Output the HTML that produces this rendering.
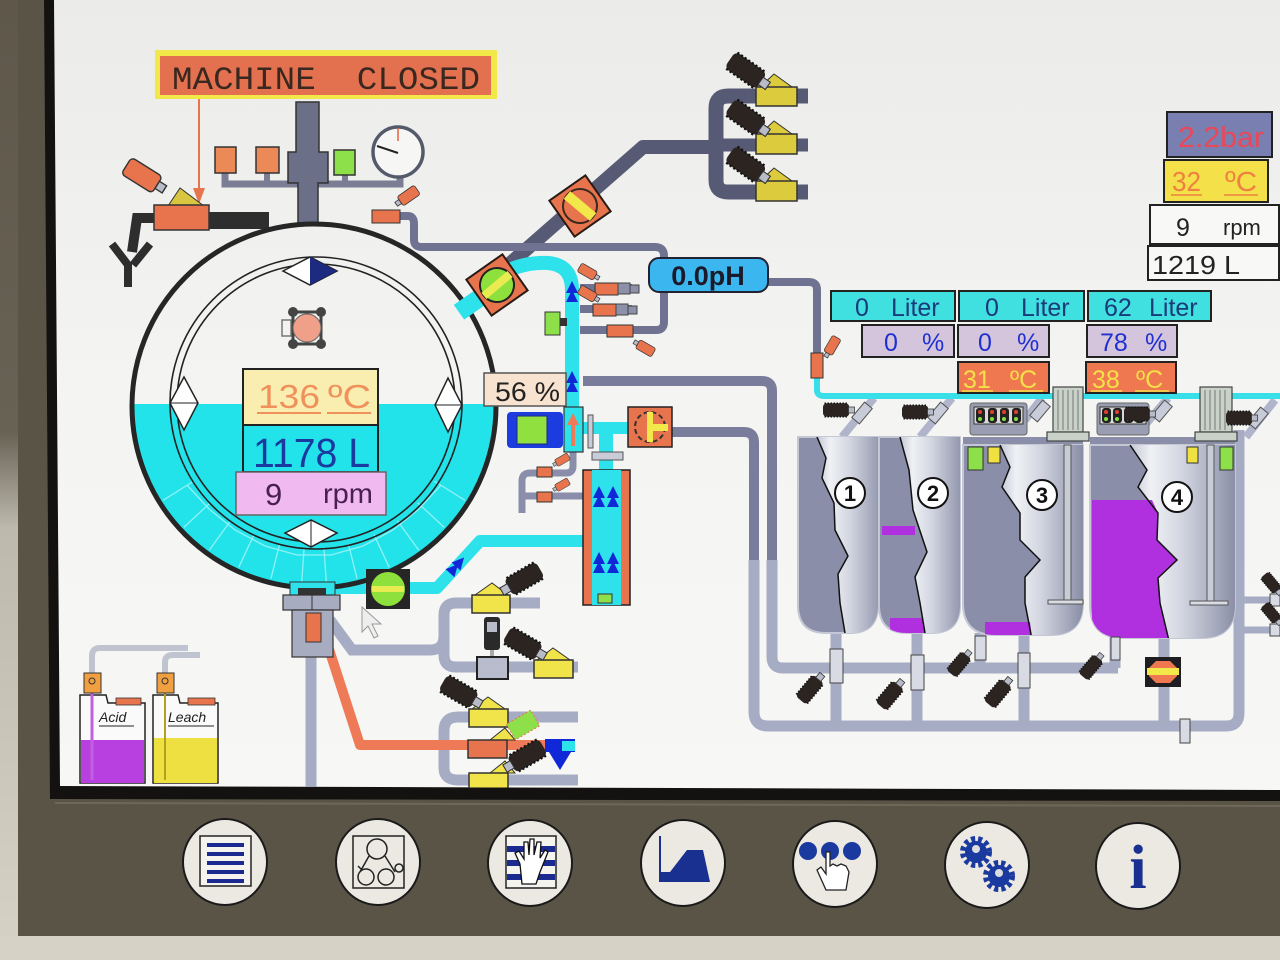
<!DOCTYPE html>
<html><head><meta charset="utf-8">
<style>
html,body{margin:0;padding:0;background:#5a5447;overflow:hidden}
svg{display:block}
.pre{white-space:pre}
</style></head><body>
<svg width="1280" height="960" viewBox="0 0 1280 960" xmlns="http://www.w3.org/2000/svg" font-family="Liberation Sans, sans-serif">
<defs>
 <linearGradient id="lstrip" x1="0" y1="0" x2="0" y2="1">
  <stop offset="0" stop-color="#5e574a"/><stop offset="0.45" stop-color="#686255"/><stop offset="0.55" stop-color="#bdb9ad"/><stop offset="1" stop-color="#d6d2c6"/>
 </linearGradient>
 <linearGradient id="scr" x1="0" y1="0" x2="0" y2="1">
  <stop offset="0" stop-color="#ebebe9"/><stop offset="0.5" stop-color="#f4f4f2"/><stop offset="1" stop-color="#f7f7f5"/>
 </linearGradient>
 <linearGradient id="cyl" x1="0" y1="0" x2="1" y2="0">
  <stop offset="0" stop-color="#c4c7d5"/><stop offset="0.18" stop-color="#eff1f5"/><stop offset="0.45" stop-color="#d3d6e0"/><stop offset="0.8" stop-color="#9da1b6"/><stop offset="1" stop-color="#7d8199"/>
 </linearGradient>
 <clipPath id="scrclip"><polygon points="54,0 1280,0 1280,790 60,786"/></clipPath>
 <clipPath id="drum"><circle cx="314" cy="406" r="181"/></clipPath>
 <clipPath id="t1"><path d="M798 437 L878 437 L878 605 Q878 633 850 633 L826 633 Q798 633 798 605 Z"/></clipPath>
 <clipPath id="t2"><path d="M879 437 L960 437 L960 605 Q960 633 932 633 L907 633 Q879 633 879 605 Z"/></clipPath>
 <clipPath id="t3"><path d="M963 445 L1083 445 L1083 603 Q1083 635 1051 635 L995 635 Q963 635 963 603 Z"/></clipPath>
 <clipPath id="t4"><path d="M1090 445 L1235 445 L1235 605 Q1235 638 1202 638 L1123 638 Q1090 638 1090 605 Z"/></clipPath>
 <g id="act"><rect x="-20" y="-9" width="35" height="18" rx="5" fill="#2b2421"/><line x1="-18" y1="-9" x2="13" y2="-9" stroke="#111" stroke-width="2" stroke-dasharray="2 2"/><line x1="-18" y1="9" x2="13" y2="9" stroke="#111" stroke-width="2" stroke-dasharray="2 2"/><rect x="14" y="-4" width="8" height="8" fill="#b8bcc8" stroke="#333" stroke-width="1"/></g>
 <g id="oact"><rect x="-14" y="-7" width="26" height="14" rx="3" fill="#e8744e" stroke="#333" stroke-width="1"/><rect x="12" y="-3" width="6" height="6" fill="#b8bcc8" stroke="#333" stroke-width="1"/></g>
 <g id="barr"><polygon points="-6,6 0,-6 6,6" fill="#1028d8"/><polygon points="-6,15 0,3 6,15" fill="#1028d8"/></g>
</defs>

<!-- bezel -->
<rect width="1280" height="960" fill="#5a5447"/>
<rect x="0" y="0" width="18" height="960" fill="url(#lstrip)"/>
<rect x="0" y="936" width="1280" height="24" fill="#d6d2c6"/>
<line x1="55" y1="803" x2="1280" y2="806" stroke="#6e6859" stroke-width="2"/>
<polygon points="44,0 1280,0 1280,801 50,799" fill="#141210"/>
<polygon points="54,0 1280,0 1280,790 60,786" fill="url(#scr)"/>

<g clip-path="url(#scrclip)">
<!-- ===== dark top pipes ===== -->
<path d="M505 268 L643 147 L714 147" stroke="#575a74" stroke-width="14" fill="none" stroke-linejoin="round"/>
<path d="M808 96 L728 96 Q716 96 716 108 L716 180 Q716 192 728 192 L808 192" stroke="#575a74" stroke-width="15" fill="none"/>
<line x1="714" y1="145" x2="808" y2="145" stroke="#575a74" stroke-width="13"/>

<!-- medium pipes -->
<g stroke="#6f7391" stroke-width="8" fill="none" stroke-linejoin="round">
 <path d="M398 216 L408 216 Q414 216 414 224 L414 240 Q414 247 422 247 L655 247 Q664 247 664 256 L664 262"/>
 <path d="M768 282 L809 282 Q817 282 817 290 L817 356"/>
 <path d="M664 292 L664 322 Q664 330 656 330 L580 330"/>
 <path d="M580 288 L632 288"/>
 <path d="M580 309 L632 309"/>
 <path d="M573 452 L573 466 Q573 473 566 473 L530 473 Q522 473 522 481 L522 513" stroke="#8a8eaa" stroke-width="7"/>
 <path d="M524 496 L583 496" stroke="#8a8eaa" stroke-width="7"/>
</g>
<g stroke="#797d9b" stroke-width="10" fill="none">
 <path d="M583 381 L762 381 Q772 381 772 391 L772 560"/>
 <path d="M672 432 L744 432 Q754 432 754 442 L754 560"/>
</g>
<!-- light pipes (tank area) -->
<g stroke="#a7acc5" stroke-width="11" fill="none">
 <path d="M772 560 L772 657 Q772 668 783 668 L1118 668"/>
 <path d="M754 560 L754 712 Q754 726 768 726 L1226 726 Q1239 726 1239 713 L1239 430"/>
 <path d="M836 633 L836 726"/>
 <path d="M917 630 L917 726"/>
 <path d="M980 633 L980 668"/>
 <path d="M1024 633 L1024 726"/>
 <path d="M1115 637 L1115 668"/>
 <path d="M1164 637 L1164 726"/>
 <path d="M1239 600 L1280 600" stroke-width="7"/>
 <path d="M1239 630 L1280 630" stroke-width="7"/>
</g>
<g stroke="#b0b5cb" stroke-width="8" fill="none">
 <path d="M874 398 L842 437"/>
 <path d="M952 398 L920 437"/>
 <path d="M1042 398 L1025 420"/>
 <path d="M1168 398 L1145 425"/>
 <path d="M1275 400 L1246 437"/>
</g>
<!-- lower-left light pipes -->
<g stroke="#a7acc5" stroke-width="11" fill="none">
 <path d="M311 650 L311 790"/>
 <path d="M330 620 L352 650 L430 650 Q444 650 444 636 L444 615 Q444 603 456 603 L540 603"/>
 <path d="M444 636 L444 655 Q444 667 456 667 L578 667"/>
 <path d="M578 717 L458 717 Q444 717 444 731 L444 768 Q444 780 458 780 L578 780"/>
</g>
<path d="M326 640 L360 745 L560 745" stroke="#ee7a58" stroke-width="10" fill="none" stroke-linejoin="round"/>

<!-- cyan pipes -->
<g stroke="#2de2ea" fill="none" stroke-linejoin="round">
 <path d="M505 272 Q525 262 548 263 Q572 265 572 290 L572 452" stroke-width="14"/>
 <path d="M332 588 L437 588 L480 541 L585 541" stroke-width="12"/>
 <path d="M817 372 L817 390 Q817 396 824 396 L1280 396" stroke="#38dfe8" stroke-width="6"/>
</g>
<rect x="583" y="422" width="45" height="12" fill="#2de2ea"/>
<rect x="599" y="434" width="14" height="36" fill="#2de2ea"/>
<use href="#barr" transform="translate(572,287)"/>
<use href="#barr" transform="translate(572,377)"/>
<use href="#barr" transform="translate(460,562) rotate(42)"/>

<!-- ===== top-left area ===== -->
<path d="M225 173 L225 184 L400 184 L400 176" stroke="#7a7d94" stroke-width="7" fill="none"/>
<line x1="267" y1="173" x2="267" y2="184" stroke="#7a7d94" stroke-width="6"/>
<line x1="345" y1="175" x2="345" y2="184" stroke="#7a7d94" stroke-width="6"/>
<path d="M296 102 L319 102 L319 152 L328 152 L328 183 L318 183 L318 224 L298 224 L298 183 L288 183 L288 152 L296 152 Z" fill="#6c6f88" stroke="#333" stroke-width="1.5"/>
<rect x="215" y="147" width="21" height="26" fill="#eb8a56" stroke="#333" stroke-width="1.5"/>
<rect x="256" y="147" width="23" height="26" fill="#eb8a56" stroke="#333" stroke-width="1.5"/>
<rect x="334" y="150" width="21" height="25" fill="#8ee04a" stroke="#333" stroke-width="1.5"/>
<circle cx="398" cy="152" r="25" fill="#f6f6f4" stroke="#555a6a" stroke-width="3.5"/>
<line x1="398" y1="128" x2="398" y2="141" stroke="#e8603e" stroke-width="1.5"/>
<line x1="398" y1="153" x2="377" y2="146" stroke="#222" stroke-width="2"/>

<!-- machine closed -->
<rect x="155" y="50" width="342" height="49" fill="#f2e84a"/>
<rect x="160" y="56" width="331" height="39" fill="#e3714f"/>
<text x="172" y="89" class="pre" font-family="Liberation Mono, monospace" font-size="32" fill="#3a2820" textLength="308" lengthAdjust="spacingAndGlyphs">MACHINE  CLOSED</text>
<line x1="199" y1="99" x2="199" y2="192" stroke="#e8744e" stroke-width="2"/>
<polygon points="193,188 205,188 199,204" fill="#e8744e"/>

<!-- left valve & black pipe -->
<rect x="205" y="212" width="64" height="17" fill="#2e2e2e"/>
<path d="M158 218 L137 218 L132 252" stroke="#2e2e2e" stroke-width="10" fill="none"/>
<path d="M112 244 L128 265 L128 287 M150 244 L133 265" stroke="#2e2e2e" stroke-width="8" fill="none"/>
<use href="#oact" transform="translate(143,176) rotate(32) scale(1.4)"/>
<polygon points="168,206 180,188 204,206" fill="#d8c640" stroke="#333" stroke-width="1"/>
<rect x="154" y="205" width="55" height="25" fill="#e8744e" stroke="#333" stroke-width="1.5"/>
<rect x="372" y="210" width="28" height="13" fill="#e8744e" stroke="#333" stroke-width="1"/>
<use href="#oact" transform="translate(408,196) rotate(145) scale(0.8)"/>

<!-- ===== drum ===== -->
<g clip-path="url(#drum)"><rect x="120" y="404" width="400" height="200" fill="#22e3ea"/></g>
<g transform="translate(314,406)" stroke="#8ff2f6" stroke-width="1.3">
 <line x1="142" y1="0" x2="178" y2="0" transform="rotate(32)"/>
 <line x1="142" y1="0" x2="178" y2="0" transform="rotate(43)"/>
 <line x1="142" y1="0" x2="178" y2="0" transform="rotate(54)"/>
 <line x1="142" y1="0" x2="178" y2="0" transform="rotate(65)"/>
 <line x1="142" y1="0" x2="178" y2="0" transform="rotate(76)"/>
 <line x1="142" y1="0" x2="178" y2="0" transform="rotate(86)"/>
 <line x1="142" y1="0" x2="178" y2="0" transform="rotate(94)"/>
 <line x1="142" y1="0" x2="178" y2="0" transform="rotate(104)"/>
 <line x1="142" y1="0" x2="178" y2="0" transform="rotate(115)"/>
 <line x1="142" y1="0" x2="178" y2="0" transform="rotate(126)"/>
 <line x1="142" y1="0" x2="178" y2="0" transform="rotate(137)"/>
 <line x1="142" y1="0" x2="178" y2="0" transform="rotate(148)"/>
 <polyline points="127,79 105,103 79,124 49,140 17,149 -17,149 -49,140 -79,124 -105,103 -127,79" fill="none"/>
</g>
<circle cx="316" cy="403" r="146" fill="none" stroke="#222" stroke-width="1.6"/>
<circle cx="316" cy="403" r="139" fill="none" stroke="#222" stroke-width="1.6"/>
<circle cx="314" cy="406" r="182" fill="none" stroke="#262626" stroke-width="5"/>
<polygon points="283,271 310,257 337,271 310,285" fill="#fff" stroke="#222" stroke-width="1.5"/>
<polygon points="310,257 337,271 310,285" fill="#1c2a80"/>
<polygon points="184,377 198,403 184,430 170,403" fill="#fff" stroke="#222" stroke-width="1.5"/>
<line x1="170" y1="403" x2="198" y2="403" stroke="#222" stroke-width="1"/>
<polygon points="448,378 462,405 448,432 435,405" fill="#fff" stroke="#222" stroke-width="1.5"/>
<line x1="435" y1="405" x2="462" y2="405" stroke="#222" stroke-width="1"/>
<polygon points="285,533 311,520 337,533 311,547" fill="#fff" stroke="#222" stroke-width="1.5"/>
<line x1="311" y1="520" x2="311" y2="547" stroke="#222" stroke-width="1"/>
<!-- pink icon -->
<rect x="282" y="320" width="9" height="16" fill="none" stroke="#777" stroke-width="1.5"/>
<rect x="293" y="312" width="28" height="32" fill="none" stroke="#444" stroke-width="3"/>
<circle cx="307" cy="328" r="14" fill="#f0a088" stroke="#666" stroke-width="1"/>
<circle cx="293" cy="312" r="5" fill="#444"/><circle cx="321" cy="312" r="5" fill="#444"/>
<circle cx="293" cy="344" r="5" fill="#444"/><circle cx="321" cy="344" r="5" fill="#444"/>
<!-- drum boxes -->
<rect x="243" y="369" width="135" height="56" fill="#f9eeb0" stroke="#222" stroke-width="2"/>
<text x="258" y="408" font-size="33" fill="#f0905a" textLength="62" lengthAdjust="spacingAndGlyphs">136</text>
<text x="328" y="408" font-size="33" fill="#f0905a" textLength="43" lengthAdjust="spacingAndGlyphs">ºC</text>
<line x1="257" y1="413" x2="321" y2="413" stroke="#f0905a" stroke-width="2"/>
<line x1="327" y1="413" x2="371" y2="413" stroke="#f0905a" stroke-width="2"/>
<rect x="243" y="425" width="135" height="47" fill="#22e3ea" stroke="#222" stroke-width="2"/>
<text x="253" y="467" font-size="41" fill="#1a3aa0" textLength="117" lengthAdjust="spacingAndGlyphs">1178 L</text>
<rect x="236" y="472" width="150" height="43" fill="#f0baf0" stroke="#666" stroke-width="1.5"/>
<text x="265" y="505" font-size="31" fill="#4a2050">9</text>
<text x="323" y="503" font-size="28" fill="#4a2050" textLength="50" lengthAdjust="spacingAndGlyphs">rpm</text>

<!-- valves on right of drum -->
<rect x="-11" y="-9" width="24" height="18" fill="#2de2ea" transform="translate(468,306) rotate(-35)"/>
<g transform="translate(580,206) rotate(-35)">
 <rect x="-22" y="-22" width="44" height="44" fill="#e8744e" stroke="#2a1a14" stroke-width="2"/>
 <circle r="17" fill="#e8744e" stroke="#3a2a20" stroke-width="2"/>
 <rect x="-17" y="-5" width="34" height="10" fill="#f2e84a" transform="rotate(75)"/>
</g>
<g transform="translate(497,285) rotate(-35)">
 <rect x="-22" y="-22" width="44" height="44" fill="#e8744e" stroke="#2a1a14" stroke-width="2"/>
 <circle r="17" fill="#8ee03c" stroke="#222" stroke-width="2"/>
 <rect x="-17" y="-4" width="34" height="8" fill="#e8ec50" transform="rotate(-5)"/>
</g>

<!-- small valves near cyan riser -->
<rect x="545" y="312" width="15" height="23" fill="#8ee04a" stroke="#333" stroke-width="1"/>
<rect x="560" y="318" width="7" height="8" fill="#333"/>
<rect x="595" y="283" width="23" height="12" fill="#e8744e" stroke="#333" stroke-width="1"/>
<rect x="618" y="283" width="12" height="11" fill="#8c90a8" stroke="#444" stroke-width="1"/>
<rect x="630" y="285" width="9" height="8" fill="#8c90a8" stroke="#444" stroke-width="1"/>
<use href="#oact" transform="translate(588,272) rotate(30) scale(0.7)"/>
<rect x="593" y="304" width="23" height="12" fill="#e8744e" stroke="#333" stroke-width="1"/>
<rect x="616" y="304" width="12" height="11" fill="#8c90a8" stroke="#444" stroke-width="1"/>
<rect x="628" y="306" width="9" height="8" fill="#8c90a8" stroke="#444" stroke-width="1"/>
<use href="#oact" transform="translate(588,294) rotate(30) scale(0.7)"/>
<rect x="607" y="325" width="26" height="12" fill="#e8744e" stroke="#333" stroke-width="1"/>
<use href="#oact" transform="translate(645,348) rotate(-150) scale(0.7)"/>
<rect x="537" y="467" width="15" height="10" fill="#e8744e" stroke="#333" stroke-width="1"/>
<use href="#oact" transform="translate(562,460) rotate(150) scale(0.55)"/>
<rect x="537" y="492" width="15" height="10" fill="#e8744e" stroke="#333" stroke-width="1"/>
<use href="#oact" transform="translate(562,485) rotate(150) scale(0.55)"/>

<!-- 56% & pump -->
<rect x="484" y="373" width="82" height="33" fill="#f7e3d0" stroke="#555" stroke-width="1.5"/>
<text x="495" y="401" font-size="27" fill="#222" textLength="65" lengthAdjust="spacingAndGlyphs">56 %</text>
<rect x="507" y="412" width="56" height="36" rx="4" fill="#1c3ce0"/>
<rect x="517" y="416" width="30" height="28" fill="#90e040" stroke="#1a2a80" stroke-width="1"/>
<rect x="564" y="407" width="19" height="45" fill="#2de2ea" stroke="#333" stroke-width="1.2"/>
<polygon points="573,413 567,425 571,425 571,446 575,446 575,425 579,425" fill="#ee7a58"/>
<rect x="588" y="415" width="5" height="33" fill="#c8ccd8" stroke="#555" stroke-width="1"/>
<rect x="628" y="407" width="44" height="40" fill="#e8744e" stroke="#222" stroke-width="1.5"/>
<circle cx="650" cy="427" r="15" fill="none" stroke="#333" stroke-width="2" stroke-dasharray="5 3"/>
<rect x="647" y="412" width="6" height="30" fill="#f2e84a"/>
<rect x="650" y="424" width="18" height="7" fill="#f2e84a"/>
<!-- filter column -->
<rect x="592" y="452" width="31" height="8" fill="#c8ccd8" stroke="#555" stroke-width="1"/>
<rect x="583" y="470" width="47" height="135" fill="#e8744e" stroke="#222" stroke-width="1.5"/>
<rect x="592" y="470" width="29" height="135" fill="#2de2ea"/>
<use href="#barr" transform="translate(599,492)"/><use href="#barr" transform="translate(613,492)"/>
<use href="#barr" transform="translate(599,558)"/><use href="#barr" transform="translate(613,558)"/>
<rect x="598" y="594" width="14" height="9" fill="#8ee04a" stroke="#333" stroke-width="1"/>

<!-- pH -->
<rect x="649" y="258" width="119" height="34" rx="10" fill="#3cb6ee" stroke="#223" stroke-width="2"/>
<text x="708" y="285" font-size="27" font-weight="bold" fill="#1a1a2a" text-anchor="middle">0.0pH</text>
<rect x="811" y="353" width="12" height="25" fill="#e8744e" stroke="#333" stroke-width="1"/>
<use href="#oact" transform="translate(832,346) rotate(120) scale(0.7)"/>

<!-- top-right cluster valves -->
<g>
 <polygon points="760,87 774,74 792,87" fill="#dccb3c" stroke="#333" stroke-width="1"/>
 <rect x="756" y="87" width="41" height="19" fill="#dccb3c" stroke="#333" stroke-width="1.5"/>
 <use href="#act" transform="translate(748,72) rotate(35) scale(1.1)"/>
 <polygon points="760,134 774,121 792,134" fill="#dccb3c" stroke="#333" stroke-width="1"/>
 <rect x="756" y="134" width="41" height="20" fill="#dccb3c" stroke="#333" stroke-width="1.5"/>
 <use href="#act" transform="translate(748,119) rotate(35) scale(1.1)"/>
 <polygon points="760,181 774,168 792,181" fill="#dccb3c" stroke="#333" stroke-width="1"/>
 <rect x="756" y="181" width="41" height="20" fill="#dccb3c" stroke="#333" stroke-width="1.5"/>
 <use href="#act" transform="translate(748,166) rotate(35) scale(1.1)"/>
</g>

<!-- right info boxes -->
<rect x="1167" y="112" width="105" height="45" fill="#7a7fb2" stroke="#222" stroke-width="2"/>
<text x="1178" y="147" font-size="29" fill="#e84858" textLength="86" lengthAdjust="spacingAndGlyphs">2.2bar</text>
<rect x="1164" y="160" width="104" height="42" fill="#f4e048" stroke="#222" stroke-width="2"/>
<text x="1172" y="191" font-size="28" fill="#f08040" textLength="29" lengthAdjust="spacingAndGlyphs">32</text>
<text x="1225" y="191" font-size="28" fill="#f08040" textLength="32" lengthAdjust="spacingAndGlyphs">ºC</text>
<line x1="1171" y1="195" x2="1202" y2="195" stroke="#f08040" stroke-width="1.5"/>
<line x1="1224" y1="195" x2="1258" y2="195" stroke="#f08040" stroke-width="1.5"/>
<rect x="1150" y="205" width="129" height="39" fill="#f8f8f6" stroke="#222" stroke-width="2"/>
<text x="1176" y="236" font-size="25" fill="#222">9</text>
<text x="1223" y="235" font-size="22" fill="#222">rpm</text>
<rect x="1148" y="246" width="131" height="34" fill="#f8f8f6" stroke="#222" stroke-width="2"/>
<text x="1152" y="274" font-size="26" fill="#222" textLength="88" lengthAdjust="spacingAndGlyphs">1219 L</text>

<!-- liter / % / temp boxes -->
<g font-size="25">
 <rect x="831" y="291" width="124" height="30" fill="#40e0e0" stroke="#222" stroke-width="2"/>
 <text x="855" y="316" fill="#1a3a7a">0</text><text x="891" y="316" fill="#1a3a7a">Liter</text>
 <rect x="959" y="291" width="125" height="30" fill="#40e0e0" stroke="#222" stroke-width="2"/>
 <text x="985" y="316" fill="#1a3a7a">0</text><text x="1021" y="316" fill="#1a3a7a">Liter</text>
 <rect x="1088" y="291" width="123" height="30" fill="#40e0e0" stroke="#222" stroke-width="2"/>
 <text x="1104" y="316" fill="#1a3a7a">62</text><text x="1149" y="316" fill="#1a3a7a">Liter</text>
 <rect x="862" y="325" width="92" height="32" fill="#d5c5dc" stroke="#222" stroke-width="2"/>
 <text x="884" y="351" fill="#2030d0">0</text><text x="922" y="351" fill="#2030d0">%</text>
 <rect x="958" y="325" width="91" height="32" fill="#d5c5dc" stroke="#222" stroke-width="2"/>
 <text x="978" y="351" fill="#2030d0">0</text><text x="1017" y="351" fill="#2030d0">%</text>
 <rect x="1087" y="325" width="90" height="32" fill="#d5c5dc" stroke="#222" stroke-width="2"/>
 <text x="1100" y="351" fill="#2030d0">78</text><text x="1145" y="351" fill="#2030d0">%</text>
 <rect x="958" y="362" width="91" height="31" fill="#f07850" stroke="#222" stroke-width="2"/>
 <text x="963" y="388" fill="#f4e048">31</text><text x="1010" y="388" fill="#f4e048">ºC</text>
 <line x1="962" y1="391" x2="993" y2="391" stroke="#f4e048" stroke-width="1.5"/>
 <line x1="1009" y1="391" x2="1043" y2="391" stroke="#f4e048" stroke-width="1.5"/>
 <rect x="1086" y="362" width="90" height="31" fill="#f07850" stroke="#222" stroke-width="2"/>
 <text x="1092" y="388" fill="#f4e048">38</text><text x="1136" y="388" fill="#f4e048">ºC</text>
 <line x1="1091" y1="391" x2="1122" y2="391" stroke="#f4e048" stroke-width="1.5"/>
 <line x1="1135" y1="391" x2="1169" y2="391" stroke="#f4e048" stroke-width="1.5"/>
</g>

<!-- ===== tanks ===== -->
<rect x="963" y="437" width="120" height="10" fill="#8a8ea8"/>
<rect x="1090" y="437" width="145" height="10" fill="#8a8ea8"/>
<!-- tank1 -->
<path d="M798 437 L878 437 L878 605 Q878 633 850 633 L826 633 Q798 633 798 605 Z" fill="#8a8ea8" stroke="#c4c7d4" stroke-width="2"/>
<g clip-path="url(#t1)">
 <polygon points="817,437 826,458 822,478 834,503 835,530 848,556 838,574 840,603 847,645 890,645 890,430" fill="url(#cyl)"/>
 <polyline points="817,437 826,458 822,478 834,503 835,530 848,556 838,574 840,603 847,645" fill="none" stroke="#111" stroke-width="1.5"/>
</g>
<!-- tank2 -->
<path d="M879 437 L960 437 L960 605 Q960 633 932 633 L907 633 Q879 633 879 605 Z" fill="#8a8ea8" stroke="#c4c7d4" stroke-width="2"/>
<g clip-path="url(#t2)">
 <polygon points="900,437 909,470 913,510 927,552 915,577 920,603 927,645 970,645 970,430" fill="url(#cyl)"/>
 <rect x="882" y="526" width="33" height="9" fill="#b030e0"/>
 <polygon points="890,618 922,618 926,640 890,640" fill="#b030e0"/>
 <polyline points="900,437 909,470 913,510 927,552 915,577 920,603 927,645" fill="none" stroke="#111" stroke-width="1.5"/>
</g>
<!-- tank3 -->
<path d="M963 445 L1083 445 L1083 603 Q1083 635 1051 635 L995 635 Q963 635 963 603 Z" fill="#8a8ea8" stroke="#c4c7d4" stroke-width="2"/>
<g clip-path="url(#t3)">
 <polygon points="1000,445 1010,467 1002,487 1020,513 1020,540 1040,560 1025,577 1025,603 1033,645 1090,645 1090,440" fill="url(#cyl)"/>
 <polygon points="985,622 1030,622 1033,645 985,645" fill="#b030e0"/>
 <polyline points="1000,445 1010,467 1002,487 1020,513 1020,540 1040,560 1025,577 1025,603 1033,645" fill="none" stroke="#111" stroke-width="1.5"/>
</g>
<rect x="1064" y="445" width="7" height="157" fill="#c8ccd6" stroke="#555" stroke-width="1"/>
<rect x="1048" y="600" width="35" height="4" fill="#d8dce4" stroke="#555" stroke-width="1"/>
<!-- tank4 -->
<path d="M1090 445 L1235 445 L1235 605 Q1235 638 1202 638 L1123 638 Q1090 638 1090 605 Z" fill="#8a8ea8" stroke="#c4c7d4" stroke-width="2"/>
<g clip-path="url(#t4)">
 <polygon points="1130,445 1147,470 1138,487 1158,513 1157,540 1177,560 1158,578 1160,603 1170,645 1245,645 1245,440" fill="url(#cyl)"/>
 <polygon points="1098,500 1152,500 1158,513 1157,540 1177,560 1158,578 1160,603 1170,645 1092,645 1092,500" fill="#b030e0"/>
 <polyline points="1130,445 1147,470 1138,487 1158,513 1157,540 1177,560 1158,578 1160,603 1170,645" fill="none" stroke="#111" stroke-width="1.5"/>
</g>
<rect x="1207" y="445" width="7" height="157" fill="#c8ccd6" stroke="#555" stroke-width="1"/>
<rect x="1190" y="601" width="38" height="4" fill="#d8dce4" stroke="#555" stroke-width="1"/>
<!-- numbers -->
<g font-size="22" font-weight="bold" text-anchor="middle" fill="#111">
 <circle cx="850" cy="493" r="15" fill="#fff" stroke="#111" stroke-width="2"/><text x="850" y="501">1</text>
 <circle cx="933" cy="493" r="15" fill="#fff" stroke="#111" stroke-width="2"/><text x="933" y="501">2</text>
 <circle cx="1042" cy="495" r="15" fill="#fff" stroke="#111" stroke-width="2"/><text x="1042" y="503">3</text>
 <circle cx="1177" cy="497" r="15" fill="#fff" stroke="#111" stroke-width="2"/><text x="1177" y="505">4</text>
</g>
<!-- motors -->
<g>
 <rect x="1053" y="387" width="30" height="45" fill="#c8d2c8" stroke="#444" stroke-width="1.2"/>
 <path d="M1058 390 V430 M1063 390 V430 M1068 390 V430 M1073 390 V430 M1078 390 V430" stroke="#777" stroke-width="1"/>
 <rect x="1047" y="432" width="42" height="9" fill="#c8d2c8" stroke="#444" stroke-width="1.2"/>
 <rect x="1200" y="387" width="32" height="45" fill="#c8d2c8" stroke="#444" stroke-width="1.2"/>
 <path d="M1205 390 V430 M1210 390 V430 M1215 390 V430 M1220 390 V430 M1225 390 V430" stroke="#777" stroke-width="1"/>
 <rect x="1195" y="432" width="42" height="9" fill="#c8d2c8" stroke="#444" stroke-width="1.2"/>
</g>
<!-- displays -->
<g>
 <rect x="970" y="403" width="57" height="32" rx="3" fill="#9a9eb2" stroke="#666" stroke-width="1"/>
 <rect x="974" y="407" width="49" height="17" fill="#d8d8d8" stroke="#333" stroke-width="1"/>
 <g fill="#222"><rect x="976" y="408" width="9" height="15" rx="3"/><rect x="988" y="408" width="9" height="15" rx="3"/><rect x="1000" y="408" width="9" height="15" rx="3"/><rect x="1012" y="408" width="9" height="15" rx="3"/></g>
 <g fill="#e04030"><circle cx="980" cy="412" r="2"/><circle cx="992" cy="412" r="2"/><circle cx="1004" cy="412" r="2"/><circle cx="1016" cy="412" r="2"/></g>
 <g fill="#80e040"><circle cx="980" cy="419" r="2"/><circle cx="992" cy="419" r="2"/><circle cx="1004" cy="419" r="2"/><circle cx="1016" cy="419" r="2"/></g>
 <rect x="1097" y="403" width="52" height="32" rx="3" fill="#9a9eb2" stroke="#666" stroke-width="1"/>
 <rect x="1100" y="407" width="46" height="17" fill="#d8d8d8" stroke="#333" stroke-width="1"/>
 <g fill="#222"><rect x="1102" y="408" width="9" height="15" rx="3"/><rect x="1113" y="408" width="9" height="15" rx="3"/><rect x="1124" y="408" width="9" height="15" rx="3"/><rect x="1135" y="408" width="9" height="15" rx="3"/></g>
 <g fill="#e04030"><circle cx="1106" cy="412" r="2"/><circle cx="1117" cy="412" r="2"/><circle cx="1128" cy="412" r="2"/><circle cx="1139" cy="412" r="2"/></g>
 <g fill="#80e040"><circle cx="1106" cy="419" r="2"/><circle cx="1117" cy="419" r="2"/><circle cx="1128" cy="419" r="2"/><circle cx="1139" cy="419" r="2"/></g>
</g>
<rect x="968" y="447" width="15" height="23" fill="#8ee04a" stroke="#333" stroke-width="1"/>
<rect x="988" y="447" width="12" height="16" fill="#f0e040" stroke="#333" stroke-width="1"/>
<rect x="1187" y="447" width="11" height="16" fill="#f0e040" stroke="#333" stroke-width="1"/>
<rect x="1220" y="447" width="13" height="23" fill="#8ee04a" stroke="#333" stroke-width="1"/>
<!-- top tank valves -->
<g>
 <rect x="-5" y="-10" width="10" height="20" fill="#c8ccd8" stroke="#555" stroke-width="1" transform="translate(862,413) rotate(40)"/>
 <use href="#act" transform="translate(838,410) scale(0.75)"/>
 <rect x="-5" y="-10" width="10" height="20" fill="#c8ccd8" stroke="#555" stroke-width="1" transform="translate(938,413) rotate(40)"/>
 <use href="#act" transform="translate(917,412) scale(0.75)"/>
 <rect x="-5" y="-10" width="10" height="20" fill="#c8ccd8" stroke="#555" stroke-width="1" transform="translate(1040,411) rotate(40)"/>
 <rect x="-5" y="-10" width="10" height="20" fill="#c8ccd8" stroke="#555" stroke-width="1" transform="translate(1162,411) rotate(40)"/>
 <use href="#act" transform="translate(1139,414) scale(0.75)"/>
 <rect x="-5" y="-10" width="10" height="20" fill="#c8ccd8" stroke="#555" stroke-width="1" transform="translate(1258,418) rotate(40)"/>
 <use href="#act" transform="translate(1241,418) scale(0.75)"/>
</g>
<!-- bottom tank valves -->
<g fill="#d8dae4" stroke="#444" stroke-width="1">
 <rect x="830" y="649" width="13" height="34"/>
 <rect x="911" y="655" width="13" height="35"/>
 <rect x="975" y="636" width="11" height="24"/>
 <rect x="1018" y="653" width="12" height="35"/>
 <rect x="1111" y="637" width="9" height="23"/>
 <rect x="1180" y="719" width="10" height="24"/>
 <rect x="1270" y="594" width="10" height="12"/>
 <rect x="1270" y="624" width="10" height="12"/>
</g>
<use href="#act" transform="translate(811,688) rotate(-50) scale(0.8)"/>
<use href="#act" transform="translate(891,694) rotate(-50) scale(0.8)"/>
<use href="#act" transform="translate(960,663) rotate(-50) scale(0.7)"/>
<use href="#act" transform="translate(999,692) rotate(-50) scale(0.8)"/>
<use href="#act" transform="translate(1092,666) rotate(-50) scale(0.7)"/>
<use href="#act" transform="translate(1272,584) rotate(50) scale(0.6)"/>
<use href="#act" transform="translate(1272,614) rotate(50) scale(0.6)"/>
<rect x="1145" y="657" width="36" height="30" fill="#1e1e22"/>
<polygon points="1156,661 1170,661 1177,668 1177,676 1170,683 1156,683 1149,676 1149,668" fill="#f07850"/>
<rect x="1147" y="668" width="32" height="7" fill="#f2e84a"/>

<!-- ===== bottom-left ===== -->
<rect x="290" y="582" width="45" height="14" fill="#2de2ea" stroke="#333" stroke-width="1"/>
<rect x="298" y="588" width="28" height="8" fill="#333"/>
<rect x="283" y="595" width="57" height="15" fill="#a8acc0" stroke="#333" stroke-width="1.2"/>
<line x1="312" y1="595" x2="312" y2="610" stroke="#333" stroke-width="1"/>
<rect x="292" y="610" width="41" height="47" fill="#a8acc0" stroke="#333" stroke-width="1.2"/>
<rect x="306" y="613" width="15" height="29" fill="#e8744e" stroke="#333" stroke-width="1"/>
<rect x="366" y="569" width="44" height="40" fill="#262626"/>
<circle cx="388" cy="589" r="17" fill="#8ee03c"/>
<rect x="372" y="586" width="32" height="6" fill="#e8ec50"/>
<polygon points="362,607 362,632 368,626 374,638 378,636 372,624 381,624" fill="#eee" stroke="#999" stroke-width="1"/>

<polygon points="475,595 492,583 508,595" fill="#f0e44a" stroke="#333" stroke-width="1"/>
<rect x="472" y="595" width="38" height="18" fill="#f0e44a" stroke="#333" stroke-width="1.5"/>
<use href="#act" transform="translate(522,580) rotate(150) scale(1.05)"/>
<rect x="484" y="617" width="16" height="33" rx="3" fill="#2a2a2a"/>
<rect x="487" y="622" width="10" height="10" fill="#b8bcc8"/>
<rect x="490" y="650" width="4" height="7" fill="#aaa"/>
<rect x="477" y="657" width="31" height="22" fill="#b8bccc" stroke="#222" stroke-width="2"/>
<polygon points="537,660 553,648 570,660" fill="#f0e44a" stroke="#333" stroke-width="1"/>
<rect x="534" y="660" width="39" height="18" fill="#f0e44a" stroke="#333" stroke-width="1.5"/>
<use href="#act" transform="translate(525,645) rotate(30) scale(1.05)"/>
<polygon points="472,709 488,697 505,709" fill="#f0e44a" stroke="#333" stroke-width="1"/>
<rect x="469" y="709" width="39" height="18" fill="#f0e44a" stroke="#333" stroke-width="1.5"/>
<use href="#act" transform="translate(461,693) rotate(30) scale(1.05)"/>
<polygon points="490,740 505,728 515,740" fill="#f0e44a" stroke="#333" stroke-width="1"/>
<g transform="translate(523,725) rotate(150)"><rect x="-14" y="-9" width="28" height="18" fill="#8ee04a" stroke="#e8744e" stroke-width="1" stroke-dasharray="2 2"/></g>
<rect x="468" y="740" width="39" height="18" fill="#e8744e" stroke="#333" stroke-width="1.5"/>
<polygon points="490,773 505,761 515,773" fill="#f0e44a" stroke="#333" stroke-width="1"/>
<use href="#act" transform="translate(525,757) rotate(150) scale(1.05)"/>
<rect x="469" y="773" width="39" height="16" fill="#f0e44a" stroke="#333" stroke-width="1.5"/>
<rect x="545" y="739" width="30" height="13" fill="#1028d8"/>
<rect x="562" y="741" width="13" height="10" fill="#2de2ea"/>
<polygon points="549,752 571,752 560,770" fill="#1028d8"/>

<!-- jugs -->
<path d="M92 673 L92 656 Q92 648 100 648 L188 648" stroke="#c0c4d0" stroke-width="6" fill="none"/>
<path d="M165 673 L165 662 Q165 655 173 655 L200 655" stroke="#c0c4d0" stroke-width="6" fill="none"/>
<path d="M80 695 L106 695 L108 703 L145 703 L145 783 L80 783 Z" fill="#fafafa" stroke="#222" stroke-width="1.5"/>
<rect x="81" y="740" width="63" height="43" fill="#b840e0"/>
<line x1="92" y1="693" x2="92" y2="780" stroke="#c060e0" stroke-width="3"/>
<rect x="84" y="673" width="17" height="20" fill="#f0a040" stroke="#333" stroke-width="1"/>
<circle cx="92" cy="681" r="3" fill="none" stroke="#333" stroke-width="1"/>
<rect x="116" y="698" width="25" height="7" fill="#e8744e" stroke="#333" stroke-width="0.8"/>
<text x="99" y="722" font-size="14" font-style="italic" fill="#222">Acid</text>
<line x1="99" y1="726" x2="134" y2="726" stroke="#222" stroke-width="1"/>
<path d="M153 695 L178 695 L180 703 L218 703 L218 783 L153 783 Z" fill="#fafafa" stroke="#222" stroke-width="1.5"/>
<rect x="154" y="738" width="63" height="45" fill="#eee040"/>
<line x1="165" y1="693" x2="165" y2="780" stroke="#b0a020" stroke-width="2"/>
<rect x="157" y="673" width="17" height="20" fill="#f0a040" stroke="#333" stroke-width="1"/>
<circle cx="165" cy="681" r="3" fill="none" stroke="#333" stroke-width="1"/>
<rect x="188" y="698" width="27" height="7" fill="#e8744e" stroke="#333" stroke-width="0.8"/>
<text x="168" y="722" font-size="14" font-style="italic" fill="#222">Leach</text>
<line x1="168" y1="726" x2="214" y2="726" stroke="#222" stroke-width="1"/>
</g>

<!-- ===== buttons ===== -->
<g fill="#ece9e2" stroke="#1a1a1a" stroke-width="2">
 <ellipse cx="225" cy="862" rx="42" ry="43"/>
 <ellipse cx="378" cy="862" rx="42" ry="43"/>
 <ellipse cx="530" cy="863" rx="42" ry="43"/>
 <ellipse cx="683" cy="863" rx="42" ry="43"/>
 <ellipse cx="835" cy="864" rx="42" ry="43"/>
 <ellipse cx="987" cy="865" rx="42" ry="43"/>
 <ellipse cx="1138" cy="866" rx="42" ry="43"/>
</g>
<!-- b1 -->
<rect x="200" y="836" width="51" height="50" fill="#f5f3ee" stroke="#222" stroke-width="1.5"/>
<g fill="#1a2a90"><rect x="207" y="843" width="37" height="4"/><rect x="207" y="852" width="37" height="4"/><rect x="207" y="861" width="37" height="4"/><rect x="207" y="870" width="37" height="4"/><rect x="207" y="879" width="37" height="4"/></g>
<!-- b2 -->
<g fill="none" stroke="#222" stroke-width="1.5">
 <rect x="353" y="836" width="51" height="52"/>
 <circle cx="377" cy="849" r="10"/><circle cx="366" cy="877" r="8"/><circle cx="386" cy="877" r="8"/><circle cx="399" cy="868" r="4"/>
 <path d="M369 856 L360 872 M385 856 L395 872 M358 866 L362 870"/>
</g>
<!-- b3 -->
<rect x="506" y="836" width="50" height="52" fill="#f5f3ee" stroke="#222" stroke-width="1.5"/>
<g fill="#1a2a90"><rect x="507" y="846" width="48" height="6"/><rect x="507" y="860" width="48" height="6"/><rect x="507" y="874" width="48" height="6"/></g>
<polygon points="522,884 520,864 515,853 519,851 524,859 524,842 528,842 529,855 530,839 534,839 534,855 537,842 541,842 540,858 545,850 548,852 540,872 536,884" fill="#fff" stroke="#111" stroke-width="1.3"/>
<!-- b4 -->
<line x1="660" y1="836" x2="660" y2="882" stroke="#1a3090" stroke-width="2"/>
<polygon points="661,882 661,872 670,872 687,850 703,850 710,882" fill="#1a3090"/>
<!-- b5 -->
<g fill="#1a3aa0"><circle cx="808" cy="851" r="9"/><circle cx="830" cy="851" r="9"/><circle cx="852" cy="851" r="9"/></g>
<path d="M826 852 L826 874 L821 867 L817 870 L826 890 L846 890 L849 872 L846 866 L841 864 L837 866 L833 864 L830 866 L830 852 Z" fill="#fff" stroke="#222" stroke-width="1.3"/>
<!-- b6 -->
<g>
 <circle cx="976" cy="852" r="13" fill="none" stroke="#1a3aa0" stroke-width="6" stroke-dasharray="4 3"/>
 <circle cx="976" cy="852" r="11" fill="#1a3aa0"/>
 <circle cx="976" cy="849" r="4" fill="#ddd"/>
 <circle cx="999" cy="876" r="13" fill="none" stroke="#1a3aa0" stroke-width="6" stroke-dasharray="4 3"/>
 <circle cx="999" cy="876" r="11" fill="#1a3aa0"/>
 <circle cx="999" cy="873" r="4" fill="#ddd"/>
</g>
<!-- b7 -->
<text x="1138" y="888" font-family="Liberation Serif, serif" font-weight="bold" font-size="62" fill="#1a3090" text-anchor="middle">i</text>
</svg>
</body></html>
